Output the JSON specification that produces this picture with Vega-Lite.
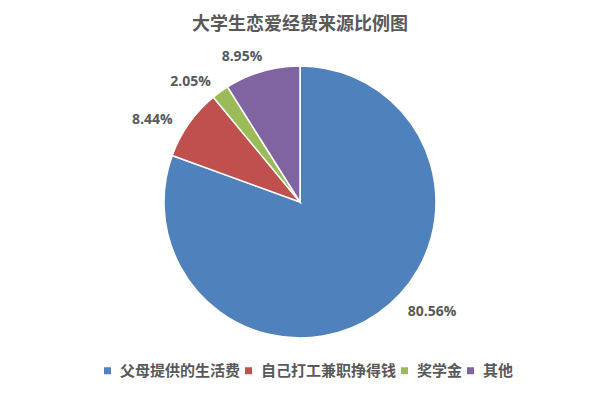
{
  "$schema": "https://vega.github.io/schema/vega-lite/v6.json",
  "autosize": {"type": "none"},
  "width": 600,
  "height": 320,
  "padding": {"top": 42, "left": 0, "right": 0, "bottom": 45},
  "background": "white",
  "title": {
    "text": "大学生恋爱经费来源比例图",
    "font": "Noto Sans CJK SC",
    "fontSize": 18,
    "fontWeight": "bold",
    "color": "#595959",
    "anchor": "middle",
    "frame": "group",
    "offset": 8
  },
  "data": {
    "values": [
      {"source": "父母提供的生活费", "share": 0.8056, "idx": 1},
      {"source": "自己打工兼职挣得钱", "share": 0.0844, "idx": 2},
      {"source": "奖学金", "share": 0.0205, "idx": 3},
      {"source": "其他", "share": 0.0895, "idx": 4}
    ]
  },
  "encoding": {
    "theta": {"field": "share", "type": "quantitative", "stack": true},
    "order": {"field": "idx", "type": "quantitative"}
  },
  "layer": [
    {
      "mark": {"type": "arc", "outerRadius": 136, "stroke": "white", "strokeWidth": 1.5},
      "encoding": {
        "color": {
          "field": "source",
          "type": "nominal",
          "scale": {
            "domain": ["父母提供的生活费", "自己打工兼职挣得钱", "奖学金", "其他"],
            "range": ["#4F81BD", "#C0504D", "#9BBB59", "#8064A2"]
          },
          "legend": {
            "orient": "none",
            "legendX": 100,
            "legendY": 321,
            "direction": "horizontal",
            "title": null,
            "symbolType": "square",
            "symbolSize": 49,
            "symbolStrokeWidth": 0,
            "labelFont": "Noto Sans CJK SC",
            "labelFontSize": 15,
            "labelFontWeight": "bold",
            "labelColor": "#595959",
            "labelOffset": 5,
            "columnPadding": 0
          }
        }
      }
    },
    {
      "mark": {"type": "text", "radius": 166, "dx": -12, "dy": 14, "font": "Open Sans", "fontSize": 14, "fontWeight": "bold", "color": "#595959"},
      "encoding": {
        "text": {"condition": {"test": "datum.idx > 1", "field": "share", "format": ".2%"}, "value": ""}
      }
    },
    {
      "mark": {"type": "text", "radius": 172, "thetaOffset": -0.265, "font": "Open Sans", "fontSize": 14, "fontWeight": "bold", "color": "#595959"},
      "encoding": {
        "text": {"condition": {"test": "datum.idx == 1", "field": "share", "format": ".2%"}, "value": ""}
      }
    }
  ]
}
